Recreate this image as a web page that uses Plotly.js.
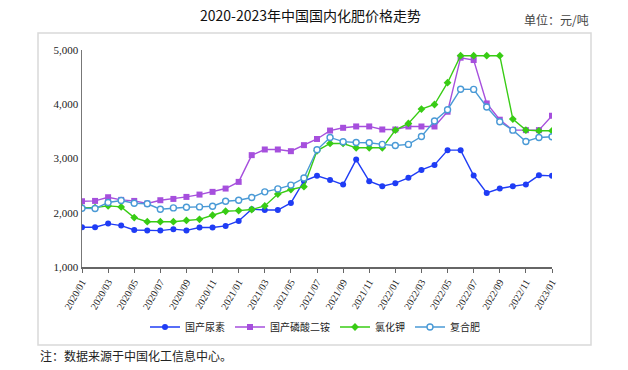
<!DOCTYPE html>
<html>
<head>
<meta charset="utf-8">
<script src="https://cdn.plot.ly/plotly-3.0.1.min.js"></script>
<style>html,body{margin:0;padding:0;background:#fff;}#chart{width:628px;height:370px;}</style>
</head>
<body>
<div id="chart"></div>
<script>
const months = [
 "2020/01","2020/02","2020/03","2020/04","2020/05","2020/06","2020/07","2020/08","2020/09","2020/10","2020/11","2020/12",
 "2021/01","2021/02","2021/03","2021/04","2021/05","2021/06","2021/07","2021/08","2021/09","2021/10","2021/11","2021/12",
 "2022/01","2022/02","2022/03","2022/04","2022/05","2022/06","2022/07","2022/08","2022/09","2022/10","2022/11","2022/12",
 "2023/01"];
const tickLabels = ["2020/01","2020/03","2020/05","2020/07","2020/09","2020/11","2021/01","2021/03","2021/05","2021/07","2021/09","2021/11","2022/01","2022/03","2022/05","2022/07","2022/09","2022/11","2023/01"];

const urea = [1732,1732,1800,1763,1683,1671,1671,1698,1675,1728,1728,1757,1849,2065,2050,2050,2182,2585,2682,2605,2520,2980,2582,2489,2545,2643,2790,2880,3154,3154,2686,2366,2446,2489,2523,2690,2680];
const dap = [2212,2218,2286,2237,2218,2170,2231,2255,2292,2335,2385,2446,2569,3062,3166,3166,3135,3246,3360,3515,3566,3591,3591,3535,3535,3590,3590,3590,3862,4858,4815,4015,3715,3523,3523,3523,3788];
const potash = [2095,2095,2126,2108,1911,1835,1835,1835,1858,1878,1954,2028,2040,2060,2125,2345,2428,2480,3142,3277,3277,3197,3197,3197,3523,3646,3911,3995,4397,4895,4895,4895,4895,3726,3523,3511,3511];
const compound = [2083,2077,2188,2225,2175,2165,2065,2089,2100,2108,2120,2212,2231,2280,2385,2440,2510,2640,3160,3388,3310,3295,3290,3260,3240,3260,3405,3692,3900,4277,4274,3950,3677,3523,3314,3388,3400];

const names = ["国产尿素","国产磷酸二铵","氯化钾","复合肥"];

const W = 628, H = 370;
const L = 82, R = 76, T = 50, B = 103;
const pw = W - L - R, ph = H - T - B;
const px = v => (v - L) / pw;
const py = v => (H - B - v) / ph;

const traces = [
 {x: months, y: urea, name: names[0], type: "scatter", mode: "lines+markers",
  line: {color: "#1f3cf5", width: 1.4}, marker: {symbol: "circle", size: 6, color: "#1f3cf5"}},
 {x: months, y: dap, name: names[1], type: "scatter", mode: "lines+markers",
  line: {color: "#a64fdd", width: 1.4}, marker: {symbol: "square", size: 6, color: "#a64fdd"}},
 {x: months, y: potash, name: names[2], type: "scatter", mode: "lines+markers",
  line: {color: "#38cc14", width: 1.4}, marker: {symbol: "diamond", size: 6, color: "#38cc14"}},
 {x: months, y: compound, name: names[3], type: "scatter", mode: "lines+markers",
  line: {color: "#4a9ad6", width: 1.4}, marker: {symbol: "circle", size: 6, color: "#ffffff", line: {color: "#4a9ad6", width: 1.4}}}
];

const layout = {
 width: W, height: H,
 margin: {l: L, r: R, t: T, b: B, pad: 0},
 paper_bgcolor: "#ffffff", plot_bgcolor: "#ffffff",
 showlegend: true,
 legend: {orientation: "h", x: px(315), xanchor: "center", y: py(327), yanchor: "middle",
  font: {family: "Noto Sans CJK SC", size: 10, color: "#222"}, bgcolor: "rgba(0,0,0,0)",
  itemwidth: 30, tracegroupgap: 0},
 xaxis: {type: "category", range: [0, 36], tickmode: "array", tickvals: tickLabels, ticktext: tickLabels,
  tickangle: -60, ticks: "outside", ticklen: 4, tickcolor: "#666", tickwidth: 1,
  showline: true, linecolor: "#666", linewidth: 1.5, showgrid: false, zeroline: false,
  tickfont: {family: "Liberation Serif", size: 10, color: "#222"}},
 yaxis: {range: [1000, 5000], dtick: 1000, tick0: 1000, tickformat: ",d", ticks: "",
  showline: true, linecolor: "#777", linewidth: 1.5, showgrid: false, zeroline: false,
  tickfont: {family: "Liberation Serif", size: 11, color: "#222"}},
 shapes: [
  {type: "rect", xref: "paper", yref: "paper", x0: px(38), x1: px(591), y0: py(345), y1: py(33),
   line: {color: "#d9d9d9", width: 1.5}, fillcolor: "rgba(0,0,0,0)", layer: "below"}
 ],
 annotations: [
  {text: "2020-2023年中国国内化肥价格走势", xref: "paper", yref: "paper", x: px(310), y: py(15),
   xanchor: "center", yanchor: "middle", showarrow: false,
   font: {family: "Noto Sans CJK SC", size: 14, color: "#111"}},
  {text: "单位：元/吨", xref: "paper", yref: "paper", x: px(591), y: py(19),
   xanchor: "right", yanchor: "middle", showarrow: false,
   font: {family: "Noto Sans CJK SC", size: 12, color: "#444"}},
  {text: "注：数据来源于中国化工信息中心。", xref: "paper", yref: "paper", x: px(38), y: py(355),
   xanchor: "left", yanchor: "middle", showarrow: false,
   font: {family: "Noto Sans CJK SC", size: 12, color: "#222"}}
 ]
};

Plotly.newPlot("chart", traces, layout, {displayModeBar: false, staticPlot: true});
</script>
</body>
</html>
